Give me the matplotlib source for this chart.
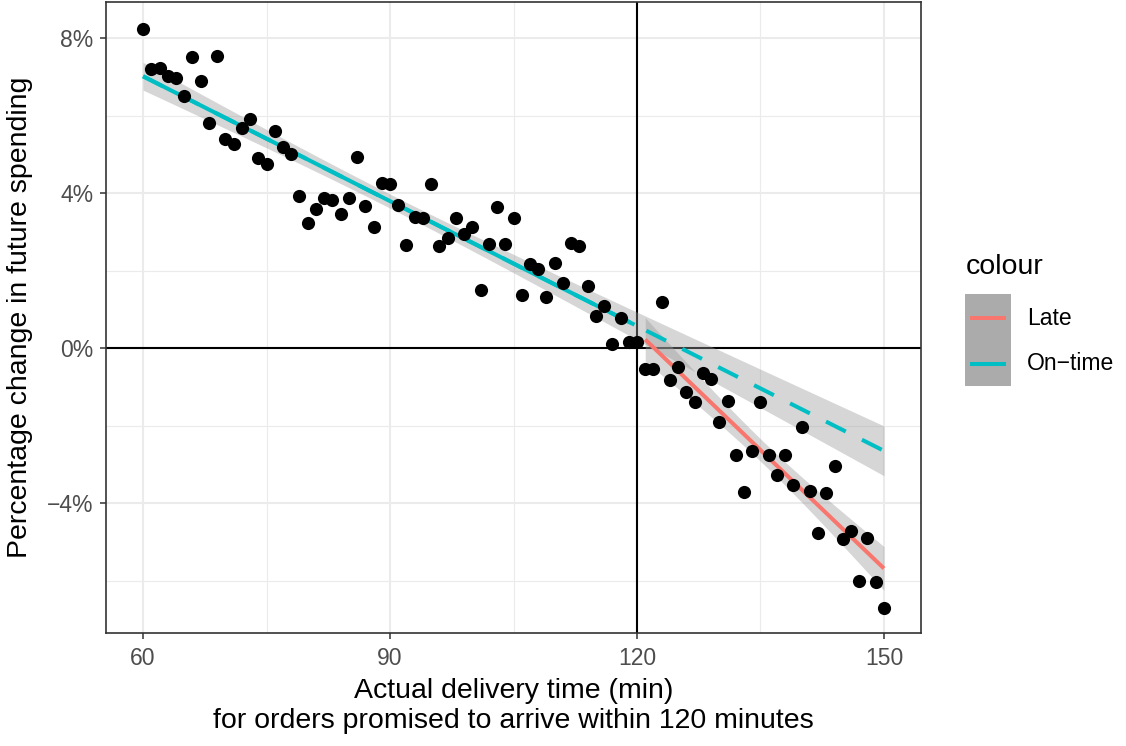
import numpy as np
import matplotlib.pyplot as plt
from matplotlib.patches import Rectangle
from matplotlib.ticker import FuncFormatter

plt.rcParams['font.family'] = ['Liberation Sans', 'DejaVu Sans']

# delivery time (min) and change in spending (%)
minutes = np.arange(60, 151)
change = np.array([
    8.23, 7.20, 7.22, 7.02, 6.97, 6.50, 7.50, 6.90, 5.80, 7.53,
    5.40, 5.26, 5.68, 5.90, 4.90, 4.75, 5.60, 5.19, 5.00, 3.92,
    3.22, 3.60, 3.87, 3.82, 3.46, 3.87, 4.93, 3.66, 3.12, 4.26,
    4.23, 3.69, 2.66, 3.38, 3.35, 4.23, 2.63, 2.84, 3.35, 2.94,
    3.12, 1.50, 2.68, 3.64, 2.68, 3.35, 1.37, 2.17, 2.04, 1.32,
    2.19, 1.68, 2.71, 2.63, 1.60, 0.83, 1.08, 0.10, 0.77, 0.15,
    0.15, -0.54, -0.54, 1.19, -0.83, -0.49, -1.14, -1.39, -0.65, -0.80,
    -1.91, -1.37, -2.76, -3.72, -2.66, -1.39, -2.76, -3.28, -2.76, -3.54,
    -2.04, -3.69, -4.77, -3.74, -3.05, -4.93, -4.72, -6.01, -4.90, -6.04,
    -6.71,
])
promised = 120
groups = ['Late', 'On\u2212time']
colours = {'Late': '#F8766D', 'On\u2212time': '#00BFC4'}

TITLE = 20.5
TEXT = 16.5


def fit_band(x, y, xs, tval):
    # ordinary least squares with 95% confidence band for the mean
    b, a = np.polyfit(x, y, 1)
    resid = y - (a + b * x)
    n = len(x)
    s = np.sqrt(np.sum(resid ** 2) / (n - 2))
    sxx = np.sum((x - x.mean()) ** 2)
    se = s * np.sqrt(1 / n + (xs - x.mean()) ** 2 / sxx)
    fit = a + b * xs
    return fit, fit - tval * se, fit + tval * se


on = minutes <= promised
late = ~on

fig = plt.figure(figsize=(11.26, 7.46), dpi=100)
ax = fig.add_axes([106 / 1126, 113 / 746, 815 / 1126, 631 / 746])
ax.set_axisbelow(True)

ax.set_xlim(55.5, 154.5)
ax.set_ylim(-7.35, 8.93)
ax.set_xticks([60, 90, 120, 150])
ax.set_yticks([-4, 0, 4, 8])
ax.set_xticks([75, 105, 135], minor=True)
ax.set_yticks([-6, -2, 2, 6], minor=True)
ax.yaxis.set_major_formatter(FuncFormatter(
    lambda v, p: ('\u2212' if v < 0 else '') + '%d%%' % abs(v)))
ax.grid(which='major', color='#EBEBEB', lw=1.5)
ax.grid(which='minor', color='#EBEBEB', lw=0.8)
ax.tick_params(which='major', length=4, width=1.1, color='#333333',
               labelsize=TEXT, labelcolor='#4D4D4D')
ax.tick_params(axis='x', which='major', pad=6)
ax.tick_params(axis='y', which='major', pad=5)
ax.tick_params(which='minor', length=0)
for sp in ax.spines.values():
    sp.set_color('#333333')
    sp.set_linewidth(1.2)

ax.axvline(promised, color='black', lw=1.5, zorder=1.8)
ax.axhline(0, color='black', lw=1.5, zorder=1.8)

# on-time fit, extended past the promise as a dashed projection
xs_on = np.linspace(60, 150, 200)
fit_on, lo_on, hi_on = fit_band(minutes[on], change[on], xs_on, 2.001)
ax.fill_between(xs_on, lo_on, hi_on, color='#999999', alpha=0.4, lw=0, zorder=2)
ax.plot(xs_on, fit_on, color=colours['On\u2212time'], lw=2.9,
        dashes=(5.5, 4.5), zorder=3)
solid = xs_on <= minutes[on].max()
ax.plot(xs_on[solid], fit_on[solid], color=colours['On\u2212time'], lw=2.9,
        solid_capstyle='butt', zorder=3)

# late fit
xs_late = np.linspace(minutes[late].min(), 150, 100)
fit_l, lo_l, hi_l = fit_band(minutes[late], change[late], xs_late, 2.048)
ax.fill_between(xs_late, lo_l, hi_l, color='#999999', alpha=0.4, lw=0, zorder=2)
ax.plot(xs_late, fit_l, color=colours['Late'], lw=2.9,
        solid_capstyle='butt', zorder=3)

ax.scatter(minutes, change, s=90, color='black', lw=0, zorder=4)

ax.set_xlabel('Actual delivery time (min)\nfor orders promised to arrive within 120 minutes',
              fontsize=TITLE, labelpad=6, linespacing=1.18)
ax.set_ylabel('Percentage change in future spending', fontsize=TITLE, labelpad=10)

# legend
W, H = 1126, 746
fig.text(966 / W, 1 - 267 / H, 'colour', fontsize=TITLE, va='center', ha='left')
fig.add_artist(Rectangle((965 / W, 1 - 386 / H), 46 / W, 92 / H,
                         transform=fig.transFigure, color='#ABABAB', lw=0))
for name, yk in zip(groups, [318, 364]):
    fig.add_artist(plt.Line2D([970 / W, 1006 / W], [1 - yk / H] * 2,
                              transform=fig.transFigure, color=colours[name],
                              lw=2.9, solid_capstyle='butt'))
    fig.text(1027 / W, 1 - yk / H, name, fontsize=TEXT, va='center', ha='left')

fig.savefig('out.png', dpi=100)
